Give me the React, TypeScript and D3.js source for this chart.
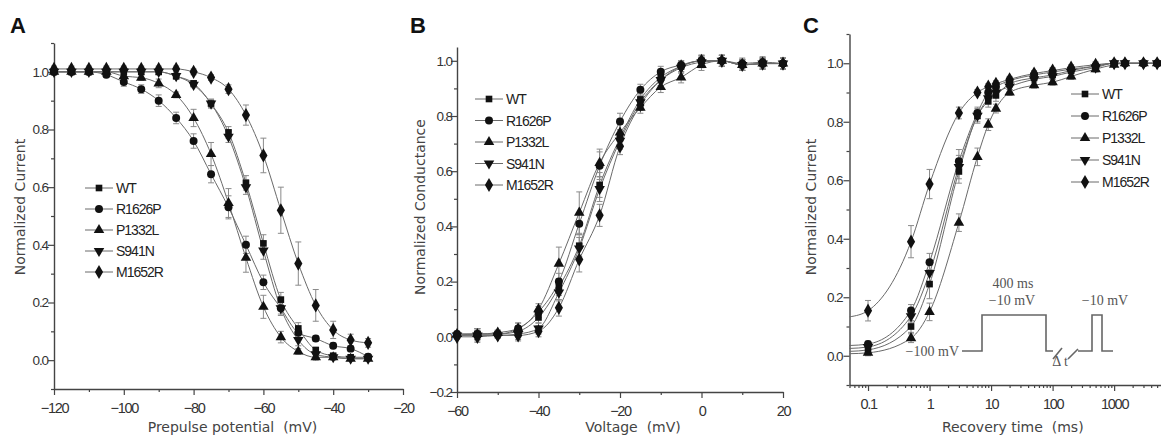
import * as d3 from "d3";
import { useEffect, useRef } from "react";

// Series shared by all three panels
const seriesNames = ["WT", "R1626P", "P1332L", "S941N", "M1652R"];

// Panel A: steady-state inactivation
const prepulseMv = [-120, -115, -110, -105, -100, -95, -90, -85, -80, -75, -70, -65, -60, -55, -50, -45, -40, -35, -30];
const inactWT = [1.0, 1.0, 1.0, 1.0, 1.0, 1.0, 1.0, 0.985, 0.96, 0.89, 0.79, 0.615, 0.405, 0.21, 0.11, 0.035, 0.015, 0.01, 0.01];
const inactR1626P = [1.0, 1.0, 1.0, 0.99, 0.965, 0.94, 0.9, 0.84, 0.76, 0.645, 0.53, 0.4, 0.27, 0.18, 0.095, 0.075, 0.05, 0.04, 0.012];
const inactP1332L = [1.0, 1.0, 1.0, 1.0, 0.985, 0.98, 0.96, 0.92, 0.84, 0.715, 0.545, 0.355, 0.185, 0.08, 0.03, 0.01, 0.01, 0.005, 0.005];
const inactS941N = [1.0, 1.0, 1.0, 1.0, 1.0, 1.0, 1.0, 0.985, 0.955, 0.89, 0.775, 0.6, 0.38, 0.18, 0.07, 0.02, 0.01, 0.005, 0.005];
const inactM1652R = [1.01, 1.01, 1.01, 1.01, 1.01, 1.01, 1.01, 1.01, 1.0, 0.98, 0.94, 0.85, 0.71, 0.52, 0.335, 0.19, 0.105, 0.07, 0.06];
const inactErrWT = [0.01, 0.01, 0.01, 0.01, 0.01, 0.01, 0.01, 0.01, 0.01, 0.015, 0.02, 0.025, 0.03, 0.025, 0.02, 0.01, 0.01, 0.005, 0.005];
const inactErrR1626P = [0.01, 0.01, 0.01, 0.01, 0.015, 0.015, 0.02, 0.02, 0.025, 0.03, 0.04, 0.03, 0.025, 0.02, 0.015, 0.01, 0.01, 0.01, 0.01];
const inactErrP1332L = [0.01, 0.01, 0.01, 0.01, 0.01, 0.01, 0.015, 0.01, 0.03, 0.04, 0.05, 0.05, 0.04, 0.02, 0.01, 0.01, 0.005, 0.005, 0.005];
const inactErrS941N = [0.01, 0.01, 0.01, 0.01, 0.01, 0.01, 0.01, 0.01, 0.01, 0.015, 0.02, 0.025, 0.03, 0.025, 0.02, 0.01, 0.01, 0.005, 0.005];
const inactErrM1652R = [0.01, 0.01, 0.01, 0.01, 0.01, 0.01, 0.01, 0.01, 0.01, 0.01, 0.015, 0.035, 0.06, 0.08, 0.075, 0.055, 0.03, 0.02, 0.015];

// Panel B: activation (conductance)
const voltageMv = [-60, -55, -50, -45, -40, -35, -30, -25, -20, -15, -10, -5, 0, 5, 10, 15, 20];
const condWT = [0.005, 0.01, 0.01, 0.02, 0.07, 0.18, 0.33, 0.55, 0.72, 0.86, 0.94, 0.98, 1.0, 1.0, 0.985, 0.99, 0.99];
const condR1626P = [0.01, 0.01, 0.01, 0.03, 0.09, 0.2, 0.41, 0.62, 0.78, 0.895, 0.96, 0.985, 1.0, 1.0, 0.99, 0.995, 0.99];
const condP1332L = [0.01, 0.01, 0.015, 0.03, 0.1, 0.265, 0.45, 0.63, 0.74, 0.83, 0.905, 0.94, 0.985, 1.0, 0.985, 0.99, 0.99];
const condS941N = [0.005, 0.005, 0.005, 0.01, 0.03, 0.16, 0.32, 0.535, 0.71, 0.85, 0.93, 0.975, 0.995, 1.0, 0.985, 0.99, 0.99];
const condM1652R = [0.0, 0.0, 0.005, 0.005, 0.02, 0.105, 0.28, 0.44, 0.69, 0.84, 0.93, 0.98, 1.0, 1.0, 0.985, 0.99, 0.99];
const condErrWT = [0.01, 0.02, 0.01, 0.02, 0.02, 0.03, 0.04, 0.045, 0.03, 0.02, 0.02, 0.02, 0.02, 0.02, 0.02, 0.02, 0.02];
const condErrR1626P = [0.01, 0.02, 0.01, 0.02, 0.02, 0.03, 0.04, 0.05, 0.03, 0.02, 0.02, 0.015, 0.02, 0.02, 0.02, 0.02, 0.02];
const condErrP1332L = [0.01, 0.02, 0.01, 0.02, 0.02, 0.06, 0.075, 0.05, 0.03, 0.02, 0.02, 0.02, 0.02, 0.02, 0.02, 0.02, 0.02];
const condErrS941N = [0.01, 0.02, 0.01, 0.02, 0.02, 0.03, 0.04, 0.045, 0.03, 0.02, 0.02, 0.02, 0.02, 0.02, 0.02, 0.02, 0.02];
const condErrM1652R = [0.01, 0.02, 0.01, 0.02, 0.02, 0.03, 0.045, 0.04, 0.03, 0.02, 0.02, 0.02, 0.02, 0.02, 0.02, 0.02, 0.02];

// Panel C: recovery from inactivation (log time)
const recoveryMs = [0.1, 0.5, 1, 3, 6, 9, 12, 20, 50, 100, 200, 500, 1000, 1500, 3000, 5000];
const recWT = [0.02, 0.1, 0.245, 0.63, 0.82, 0.87, 0.89, 0.93, 0.95, 0.96, 0.975, 0.99, 1.0, 1.0, 1.0, 1.0];
const recR1626P = [0.04, 0.155, 0.32, 0.665, 0.83, 0.9, 0.92, 0.94, 0.96, 0.97, 0.98, 0.99, 1.0, 1.0, 1.0, 1.0];
const recP1332L = [0.01, 0.06, 0.15, 0.455, 0.68, 0.79, 0.845, 0.9, 0.925, 0.935, 0.955, 0.98, 0.995, 1.0, 1.0, 1.0];
const recS941N = [0.03, 0.135, 0.283, 0.645, 0.82, 0.88, 0.9, 0.92, 0.945, 0.955, 0.97, 0.985, 1.0, 1.0, 1.0, 1.0];
const recM1652R = [0.154, 0.39, 0.587, 0.83, 0.9, 0.92, 0.93, 0.945, 0.965, 0.975, 0.985, 0.995, 1.0, 1.0, 1.0, 1.0];
const recErrWT = [0.01, 0.02, 0.05, 0.04, 0.02, 0.02, 0.02, 0.01, 0.01, 0.01, 0.01, 0.01, 0.005, 0.005, 0.005, 0.005];
const recErrR1626P = [0.01, 0.02, 0.03, 0.04, 0.02, 0.02, 0.015, 0.01, 0.01, 0.01, 0.01, 0.01, 0.005, 0.005, 0.005, 0.005];
const recErrP1332L = [0.01, 0.015, 0.03, 0.03, 0.03, 0.02, 0.015, 0.01, 0.01, 0.01, 0.01, 0.01, 0.005, 0.005, 0.005, 0.005];
const recErrS941N = [0.01, 0.02, 0.04, 0.04, 0.025, 0.02, 0.015, 0.01, 0.01, 0.01, 0.01, 0.01, 0.005, 0.005, 0.005, 0.005];
const recErrM1652R = [0.035, 0.055, 0.05, 0.02, 0.01, 0.01, 0.01, 0.01, 0.01, 0.01, 0.01, 0.01, 0.005, 0.005, 0.005, 0.005];
// where the connecting curves meet the left axis (t = 0.05 ms)
const recLineStartMs = 0.05;
const recLineStart = [0.015, 0.035, 0.007, 0.025, 0.133];

const tickFont = "'Liberation Sans', Arial, sans-serif";
const titleFont = "'DejaVu Sans', Verdana, sans-serif";

const drawSymbol = (sel, i) => {
  const types = [d3.symbolSquare, d3.symbolCircle, d3.symbolTriangle, d3.symbolTriangle, d3.symbolDiamond];
  const sizes = [44, 50, 48, 48, 58];
  sel.attr("d", d3.symbol().type(types[i]).size(sizes[i])());
  if (i === 3) sel.attr("transform", (sel.attr("transform") || "") + " rotate(180)");
};

const drawPanel = (svg, p) => {
  const g = svg.append("g");
  const { x, y } = p;
  const x0 = x.range()[0];
  const y0 = y.range()[0];

  // minor ticks
  g.append("g").attr("transform", `translate(0,${y0})`)
    .call(d3.axisBottom(x).tickValues(p.xMinor).tickSize(3).tickFormat(() => ""))
    .call(a => a.select(".domain").remove());
  g.append("g").attr("transform", `translate(${x0},0)`)
    .call(d3.axisLeft(y).tickValues(p.yMinor).tickSize(3).tickFormat(() => ""))
    .call(a => a.select(".domain").remove());

  // major axes
  const xAxisG = g.append("g").attr("transform", `translate(0,${y0})`)
    .call(d3.axisBottom(x).tickValues(p.xMajor).tickSize(6).tickSizeOuter(0).tickPadding(8).tickFormat(p.xFormat));
  const yAxisG = g.append("g").attr("transform", `translate(${x0},0)`)
    .call(d3.axisLeft(y).tickValues(p.yMajor).tickSize(6).tickSizeOuter(0).tickPadding(p.yPad).tickFormat(d3.format(".1f")));

  g.selectAll(".domain").attr("stroke", "#444").attr("stroke-width", 1.4);
  g.selectAll(".tick line").attr("stroke", "#444").attr("stroke-width", 1.2);
  xAxisG.selectAll("text")
    .attr("font-family", tickFont).attr("font-size", 14.5).attr("fill", "#333").attr("letter-spacing", -1.3);
  yAxisG.selectAll("text")
    .attr("font-family", tickFont).attr("font-size", 13.5).attr("fill", "#333").attr("letter-spacing", -1.1);

  // connecting curves
  const line = d3.line().x(d => x(d[0])).y(d => y(d[1])).curve(d3.curveMonotoneX);
  p.series.forEach((vals, i) => {
    const pts = p.xs.map((xv, j) => [xv, vals[j]]);
    if (p.lineStart) pts.unshift([p.lineStartX, p.lineStart[i]]);
    g.append("path").datum(pts).attr("fill", "none").attr("stroke", "#6a6a6a").attr("stroke-width", 1).attr("d", line);
  });

  // error bars
  p.series.forEach((vals, i) => {
    const eg = g.append("g").attr("stroke", "#8a8a8a").attr("stroke-width", 1);
    p.xs.forEach((xv, j) => {
      const cx = x(xv);
      const top = y(vals[j] + p.errors[i][j]);
      const bot = y(vals[j] - p.errors[i][j]);
      eg.append("line").attr("x1", cx).attr("x2", cx).attr("y1", top).attr("y2", bot);
      eg.append("line").attr("x1", cx - 3).attr("x2", cx + 3).attr("y1", top).attr("y2", top);
      eg.append("line").attr("x1", cx - 3).attr("x2", cx + 3).attr("y1", bot).attr("y2", bot);
    });
  });

  // markers
  p.series.forEach((vals, i) => {
    p.xs.forEach((xv, j) => {
      const m = g.append("path").attr("fill", "#111").attr("transform", `translate(${x(xv)},${y(vals[j])})`);
      drawSymbol(m, i);
    });
  });

  // legend
  const lg = g.append("g").attr("transform", `translate(${p.legend[0]},${p.legend[1]})`);
  seriesNames.forEach((name, i) => {
    const row = lg.append("g").attr("transform", `translate(0,${i * p.legend[2]})`);
    row.append("line").attr("x1", 0).attr("x2", 28).attr("stroke", "#6a6a6a").attr("stroke-width", 1);
    const m = row.append("path").attr("fill", "#111").attr("transform", "translate(14,0)");
    drawSymbol(m, i);
    row.append("text").attr("x", 31).attr("dy", "0.36em").text(name)
      .attr("font-family", tickFont).attr("font-size", 14).attr("fill", "#222").attr("letter-spacing", -1);
  });

  // titles
  g.append("text").attr("x", p.letter[0]).attr("y", 33).text(p.letter[1])
    .attr("font-family", tickFont).attr("font-weight", "bold").attr("font-size", 22).attr("fill", "#111");
  g.append("text").attr("x", (x.range()[0] + x.range()[1]) / 2 + p.xTitleShift).attr("y", 432)
    .attr("text-anchor", "middle").text(p.xTitle)
    .attr("font-family", titleFont).attr("font-size", 14).attr("fill", "#444").style("white-space", "pre");
  g.append("text").attr("transform", `translate(${p.yTitleX},207) rotate(-90)`)
    .attr("text-anchor", "middle").text(p.yTitle)
    .attr("font-family", titleFont).attr("font-size", 14).attr("fill", "#444");
};

const drawProtocol = (svg) => {
  // stimulus schematic inset, positioned in panel C
  const g = svg.append("g").attr("transform", "translate(962,315)");
  const paths = [
    "M0,36H20V0H84V36H91",
    "M91,44L100,33",
    "M106,44L116,34",
    "M116,36H130V0H140V36H151",
  ];
  paths.forEach(d => {
    g.append("path").attr("d", d).attr("stroke", "#666").attr("stroke-width", 1.6).attr("fill", "none");
  });
  const txt = (tx, ty, s, anchor = "middle") => g.append("text").attr("x", tx).attr("y", ty)
    .attr("text-anchor", anchor).text(s)
    .attr("font-family", "'Liberation Serif', 'Times New Roman', serif").attr("font-size", 14).attr("fill", "#555");
  txt(-3, 41, "\u2212100 mV", "end");
  txt(51, -27, "400 ms");
  txt(50, -10, "\u221210 mV");
  txt(143, -10, "\u221210 mV");
  txt(98, 51, "\u0394 t");
};

export default function App() {
  const ref = useRef(null);

  useEffect(() => {
    const svg = d3.select(ref.current);
    svg.selectAll("*").remove();

    drawPanel(svg, {
      x: d3.scaleLinear().domain([-120, -20]).range([54, 403]),
      y: d3.scaleLinear().domain([-0.1, 1.1]).range([389, 43]),
      xMajor: [-120, -100, -80, -60, -40, -20],
      xMinor: [-110, -90, -70, -50, -30],
      xFormat: d3.format("d"),
      yMajor: [0, 0.2, 0.4, 0.6, 0.8, 1.0],
      yMinor: [-0.1, 0.1, 0.3, 0.5, 0.7, 0.9, 1.1],
      yPad: 0,
      xs: prepulseMv,
      series: [inactWT, inactR1626P, inactP1332L, inactS941N, inactM1652R],
      errors: [inactErrWT, inactErrR1626P, inactErrP1332L, inactErrS941N, inactErrM1652R],
      legend: [85, 188, 21],
      letter: [10, "A"],
      xTitle: "Prepulse potential  (mV)",
      xTitleShift: 4,
      yTitle: "Normalized Current",
      yTitleX: 25,
    });

    drawPanel(svg, {
      x: d3.scaleLinear().domain([-60, 20]).range([457, 783]),
      y: d3.scaleLinear().domain([-0.2, 1.05]).range([392, 47]),
      xMajor: [-60, -40, -20, 0, 20],
      xMinor: [-50, -30, -10, 10],
      xFormat: d3.format("d"),
      yMajor: [-0.2, 0, 0.2, 0.4, 0.6, 0.8, 1.0],
      yMinor: [-0.1, 0.1, 0.3, 0.5, 0.7, 0.9],
      yPad: -1,
      xs: voltageMv,
      series: [condWT, condR1626P, condP1332L, condS941N, condM1652R],
      errors: [condErrWT, condErrR1626P, condErrP1332L, condErrS941N, condErrM1652R],
      legend: [475, 99, 21.5],
      letter: [410, "B"],
      xTitle: "Voltage  (mV)",
      xTitleShift: 13,
      yTitle: "Normalized Conductance",
      yTitleX: 425,
    });

    const minorLog = [];
    [0.01, 0.1, 1, 10, 100, 1000].forEach(dec => {
      for (let k = 2; k <= 9; k++) {
        const v = dec * k;
        if (v >= 0.05 && v <= 6000) minorLog.push(v);
      }
    });
    const xC = d3.scaleLog().domain([0.05, 6000]).range([849.5, 1162]);
    drawPanel(svg, {
      x: xC,
      y: d3.scaleLinear().domain([-0.1, 1.1]).range([385, 34]),
      xMajor: [0.1, 1, 10, 100, 1000],
      xMinor: minorLog,
      xFormat: d => String(d),
      yMajor: [0, 0.2, 0.4, 0.6, 0.8, 1.0],
      yMinor: [-0.1, 0.1, 0.3, 0.5, 0.7, 0.9, 1.1],
      yPad: 1,
      xs: recoveryMs,
      series: [recWT, recR1626P, recP1332L, recS941N, recM1652R],
      errors: [recErrWT, recErrR1626P, recErrP1332L, recErrS941N, recErrM1652R],
      lineStart: recLineStart,
      lineStartX: recLineStartMs,
      legend: [1071, 94, 22],
      letter: [803, "C"],
      xTitle: "Recovery time  (ms)",
      xTitleShift: 7,
      yTitle: "Normalized Current",
      yTitleX: 816,
    });

    drawProtocol(svg);
  }, []);

  return (
    <svg
      ref={ref}
      width={1161}
      height={440}
      style={{ position: "absolute", left: 0, top: 0, background: "#fff" }}
    />
  );
}
